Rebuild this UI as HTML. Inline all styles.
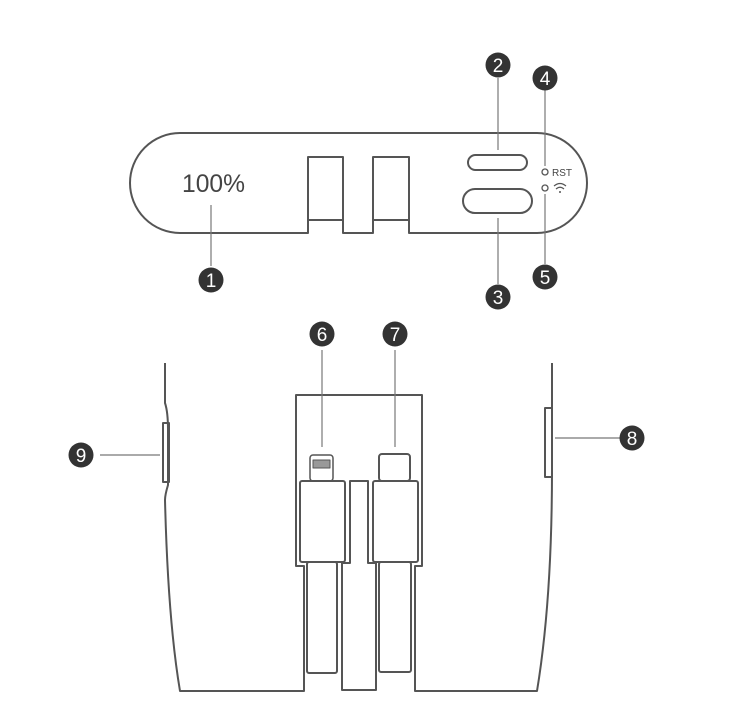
<!DOCTYPE html>
<html><head><style>body{margin:0;background:#fff}svg{display:block}</style></head><body>
<svg width="733" height="726" viewBox="0 0 733 726" xmlns="http://www.w3.org/2000/svg">
<g fill="none" stroke="#555" stroke-width="2" stroke-linejoin="round">
<path d="M180 133 H537 A50 50 0 0 1 537 233 H409 V220 H373 V233 H343 V220 H308 V233 H180 A50 50 0 0 1 180 133 Z"/>
<path d="M308 233 V157 H343 V233 M373 233 V157 H409 V233"/>
<rect x="468" y="155" width="59" height="15" rx="7.5"/>
<rect x="463" y="189" width="69" height="24" rx="12"/>
<circle cx="545" cy="172" r="3" stroke-width="1.3"/>
<circle cx="545" cy="188" r="3" stroke-width="1.3"/>
<path d="M165 363 V403 Q168 412 168 430 V485 Q165 495 165 500 Q168 620 180 691 H304 V566 H296 V395 H422 V566 H415 V691 H537 Q552 600 552 470 V363"/>
<rect x="163" y="423" width="6" height="59"/>
<rect x="545" y="408" width="7" height="69"/>
<rect x="300" y="481" width="45" height="81" rx="2"/>
<rect x="307" y="562" width="30" height="111" rx="2"/>
<rect x="310" y="455" width="23" height="26" rx="3" stroke-width="1.5"/>
<rect x="313" y="460" width="17" height="8" stroke-width="1" fill="#999"/>
<rect x="373" y="481" width="45" height="81" rx="2"/>
<rect x="379" y="562" width="32" height="110" rx="2"/>
<rect x="379" y="454" width="31" height="27" rx="3"/>
<path d="M350 481 H368 V563 H376 V690 H342 V563 H350 Z"/>
</g>
<g stroke="#777" stroke-width="1.2">
<line x1="211" y1="205" x2="211" y2="266"/>
<line x1="498" y1="78" x2="498" y2="150"/>
<line x1="498" y1="218" x2="498" y2="284"/>
<line x1="545" y1="90" x2="545" y2="166"/>
<line x1="545" y1="194" x2="545" y2="264"/>
<line x1="322" y1="350" x2="322" y2="447"/>
<line x1="395" y1="350" x2="395" y2="447"/>
<line x1="100" y1="455" x2="160" y2="455"/>
<line x1="555" y1="438" x2="620" y2="438"/>
</g>
<path d="M554 186 Q560 181 566 186 M556 189 Q560 185.5 564 189" stroke="#555" stroke-width="1.2" fill="none"/>
<circle cx="560" cy="192" r="1" fill="#555"/>
<text x="552" y="176" font-family="Liberation Sans, sans-serif" font-size="10" fill="#444">RST</text>
<text x="182" y="192" font-family="Liberation Sans Narrow, Liberation Sans, sans-serif" font-size="25" fill="#444" textLength="63" lengthAdjust="spacingAndGlyphs">100%</text>
<g fill="#333">
<circle cx="211" cy="280" r="12.5"/><circle cx="498" cy="65" r="12.5"/><circle cx="498" cy="297" r="12.5"/>
<circle cx="545" cy="78" r="12.5"/><circle cx="545" cy="277" r="12.5"/><circle cx="322" cy="334" r="12.5"/>
<circle cx="395" cy="334" r="12.5"/><circle cx="81" cy="455" r="12.5"/><circle cx="632" cy="438" r="12.5"/>
</g>
<g fill="#fff" font-family="Liberation Sans, sans-serif" font-size="19" text-anchor="middle">
<text x="211" y="287">1</text><text x="498" y="72">2</text><text x="498" y="304">3</text>
<text x="545" y="85">4</text><text x="545" y="284">5</text><text x="322" y="341">6</text>
<text x="395" y="341">7</text><text x="81" y="462">9</text><text x="632" y="445">8</text>
</g>
</svg>
</body></html>
